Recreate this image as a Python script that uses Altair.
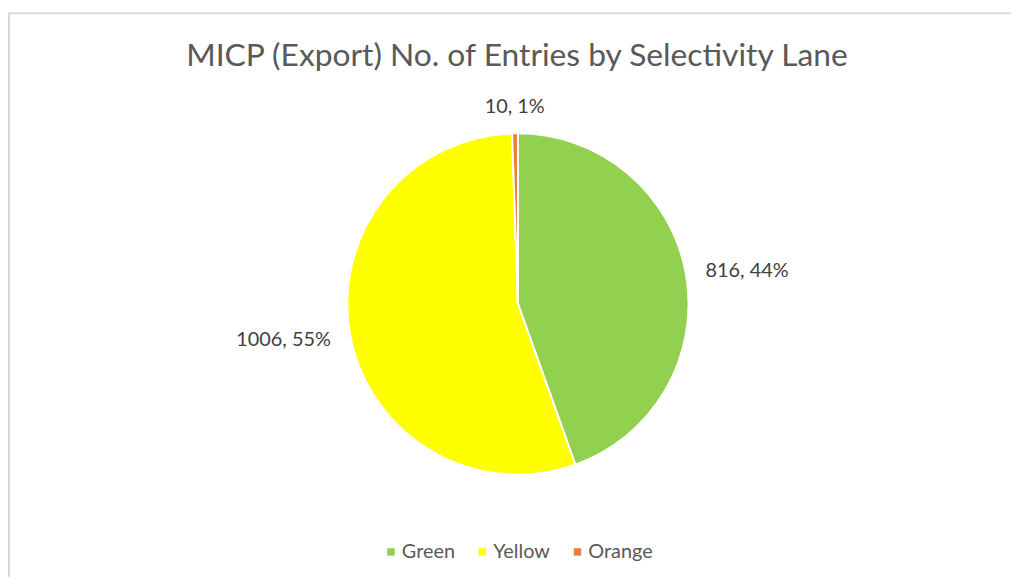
import altair as alt
import pandas as pd

lanes = ["Green", "Yellow", "Orange"]
entries = [816, 1006, 10]
percents = [44, 55, 1]
colors = ["#92D050", "#FFFF00", "#ED7D31"]
title_text = "MICP (Export) No. of Entries by Selectivity Lane"

df = pd.DataFrame({
    "lane": lanes,
    "entries": entries,
    "pct": percents,
    "order": list(range(len(lanes))),
})
df["label"] = [f"{e}, {p}%" for e, p in zip(entries, percents)]

W, H = 1011, 571
CX, CY = 514, 296
FONT = "Lato"

base = alt.Chart(df).encode(
    theta=alt.Theta("entries:Q", stack=True),
    order=alt.Order("order:Q"),
)

pie = base.mark_arc(outerRadius=172, stroke="white", strokeWidth=2).encode(
    color=alt.Color(
        "lane:N",
        scale=alt.Scale(domain=lanes, range=colors),
        sort=lanes,
        legend=alt.Legend(
            orient="none", legendX=376, legendY=536, direction="horizontal",
            title=None, symbolType="square", symbolSize=56, symbolStrokeWidth=0,
            labelFontSize=20, labelFont=FONT, labelColor="#595959",
            columnPadding=17, labelOffset=1,
        ),
    ),
    x=alt.value(CX),
    y=alt.value(CY),
)

labels = base.mark_text(
    radius=192, fontSize=20, font=FONT, color="#404040",
    align=alt.ExprRef(expr="datum.lane == 'Green' ? 'left' : (datum.lane == 'Yellow' ? 'right' : 'center')"),
    baseline=alt.ExprRef(expr="datum.lane == 'Orange' ? 'alphabetic' : 'middle'"),
).encode(
    text="label:N",
    x=alt.value(CX),
    y=alt.value(CY),
)

title = alt.Chart(pd.DataFrame({"t": [title_text]})).mark_text(
    fontSize=32, font=FONT, color="#595959", baseline="middle"
).encode(text="t:N", x=alt.value(513), y=alt.value(46))

dummy = pd.DataFrame({"d": [0]})
border_top = alt.Chart(dummy).mark_rule(color="#d9d9d9", strokeWidth=2).encode(
    x=alt.value(0), x2=alt.value(W), y=alt.value(3)
)
border_left = alt.Chart(dummy).mark_rule(color="#d9d9d9", strokeWidth=2).encode(
    x=alt.value(1), y=alt.value(3), y2=alt.value(H)
)

chart = alt.layer(border_top, border_left, pie, labels, title).properties(
    width=W, height=H, autosize="none", padding=0
).configure_view(stroke=None)

chart.save("out.html", embed_options={"renderer": "svg", "actions": False})
